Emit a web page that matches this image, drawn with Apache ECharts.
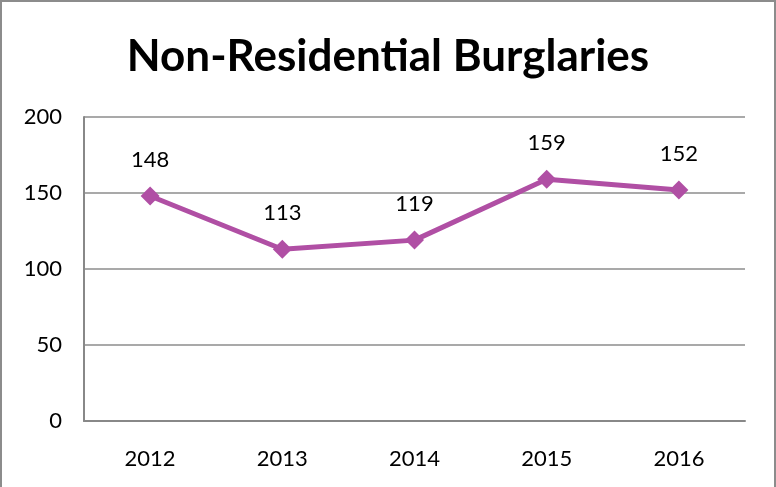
<!DOCTYPE html>
<html>
<head>
<meta charset="utf-8">
<script src="https://cdn.jsdelivr.net/npm/echarts@6/dist/echarts.min.js"></script>
<style>
	html, body { margin: 0; padding: 0; background: #fff; }
	#chart { width: 776px; height: 487px; box-sizing: border-box; border: 2px solid #8c8c8c; border-bottom: none; }
</style>
</head>
<body>
<div id="chart"></div>
<script>
	let years = ['2012', '2013', '2014', '2015', '2016'];
	let burglaries = [148, 113, 119, 159, 152];
	let yTicks = [0, 50, 100, 150, 200];

	let myChart = echarts.init(document.getElementById('chart'));

	let option = {
		animation: false,
		textStyle: { fontFamily: 'Lato' },
		title: {
			text: 'Non-Residential Burglaries',
			left: 'center',
			top: 28,
			textStyle: {
				fontFamily: 'Lato',
				fontWeight: 'bold',
				fontSize: 44,
				color: '#000'
			}
		},
		grid: {
			left: 82,
			right: 29,
			top: 115,
			bottom: 66
		},
		xAxis: {
			type: 'category',
			data: years,
			boundaryGap: true,
			axisLine: { lineStyle: { color: '#888', width: 2 } },
			axisTick: { show: false },
			axisLabel: { color: '#000', fontSize: 22, margin: 27 }
		},
		yAxis: {
			type: 'value',
			min: yTicks[0],
			max: yTicks[yTicks.length - 1],
			interval: 50,
			axisLine: { show: true, lineStyle: { color: '#888', width: 2 } },
			axisTick: { show: false },
			axisLabel: { color: '#000', fontSize: 22, margin: 22 },
			splitLine: { lineStyle: { color: '#8c8c8c', width: 1.5 } }
		},
		series: [
			{
				name: 'Non-Residential Burglaries',
				type: 'line',
				data: burglaries,
				symbol: 'diamond',
				symbolSize: 19,
				itemStyle: { color: '#b04fa4' },
				lineStyle: { color: '#b04fa4', width: 5 },
				label: {
					show: true,
					position: 'top',
					distance: 16,
					color: '#000',
					fontSize: 22
				}
			}
		]
	};

	myChart.setOption(option);
</script>
</body>
</html>
